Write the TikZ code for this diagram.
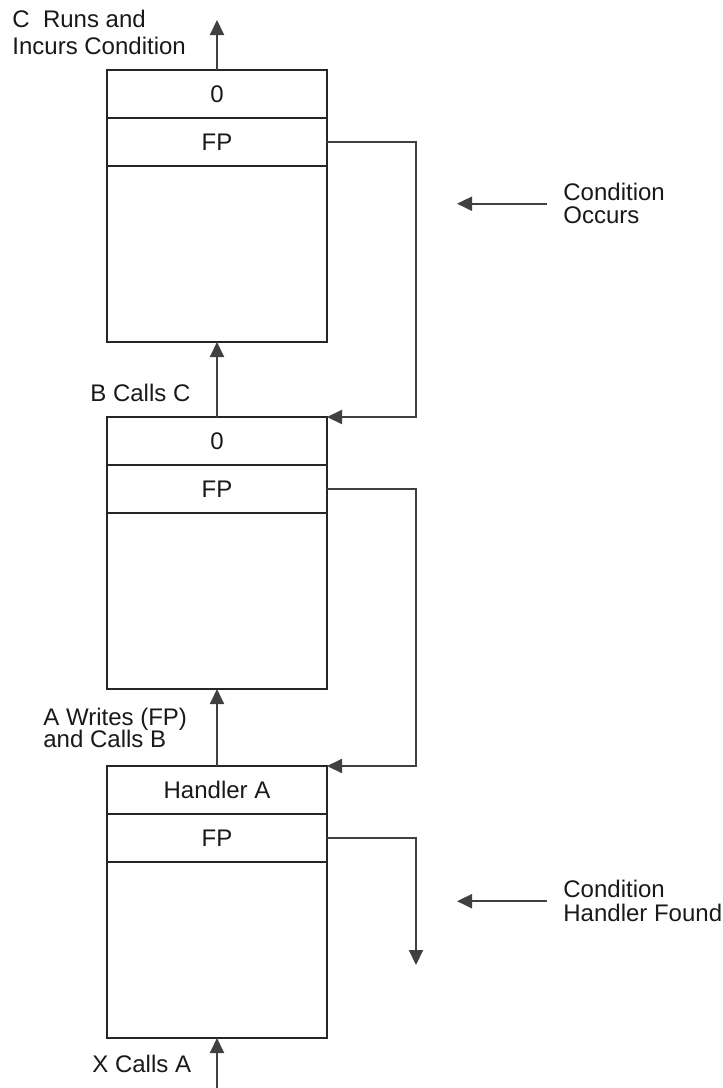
\documentclass[tikz,border=0pt]{standalone}
\usepackage{fontspec}
\setmainfont{Liberation Sans}
\usetikzlibrary{positioning, arrows.meta}
\newcommand{\lblfont}[1]{\fontsize{12}{#1}\selectfont\lineskiplimit=-10pt}

\begin{document}
\begin{tikzpicture}[x=0.5pt, y=-0.5pt,
  >={Triangle[length=7.5pt,width=7pt]},
  cell/.style={draw=black!85, line width=1pt, minimum width=110pt, minimum height=24pt,
    inner sep=0pt, outer sep=0pt, text=black!90, font=\lblfont{14}},
  body/.style={cell, minimum height=88pt},
  lbl/.style={anchor=north west, inner sep=0pt, align=left, text=black!90},
  link/.style={->, draw=black!75, line width=1pt}]
\useasboundingbox (0,0) rectangle (723,1088);

% frame of C
\node[cell] (c0) at (217,94) {0};
\node[cell, below=0pt of c0] (cF) {FP};
\node[body, below=0pt of cF] (cB) {};

% frame of B
\node[cell] (b0) at (217,441) {0};
\node[cell, below=0pt of b0] (bF) {FP};
\node[body, below=0pt of bF] (bB) {};

% frame of A
\node[cell] (a0) at (217,790) {Handler A};
\node[cell, below=0pt of a0] (aF) {FP};
\node[body, below=0pt of aF] (aB) {};

% labels
\node[lbl, font=\lblfont{13.5}] (crun) at (12,10) {C~~Runs and\\Incurs Condition};
\node[lbl, anchor=base west, font=\lblfont{14}] (bcall) at (90,401) {B Calls C};
\node[lbl, font=\lblfont{11}] (awrite) at (43,708) {A Writes (FP)\\and Calls B};
\node[lbl, anchor=base west, font=\lblfont{14}] (xcall) at (92,1072) {X Calls A};
\node[lbl, font=\lblfont{11.5}] (occ) at (563,183) {Condition\\Occurs};
\node[lbl, font=\lblfont{12}] (found) at (563,880) {Condition\\Handler Found};

% free ends
\coordinate (ctop) at (217,20);
\coordinate (xin) at (217,1088);
\coordinate (hfound) at (416,965);
\coordinate (occtip) at (457,0);
\coordinate (foundtip) at (457,0);

% calls
\draw[link] (c0.north) -- (ctop);
\draw[link] (b0.north) -- (cB.south);
\draw[link] (a0.north) -- (bB.south);
\draw[link] (xin) -- (aB.south);

% back chain
\draw[link] (cF.east) -- ++(89,0) |- (b0.north east);
\draw[link] (bF.east) -- ++(89,0) |- (a0.north east);
\draw[link] (aF.east) -| (hfound);

% notes
\draw[link] ([xshift=-8pt]occ.west) -- (occtip |- occ.west);
\draw[link] ([xshift=-8pt]found.west) -- (foundtip |- found.west);
\end{tikzpicture}
\end{document}
